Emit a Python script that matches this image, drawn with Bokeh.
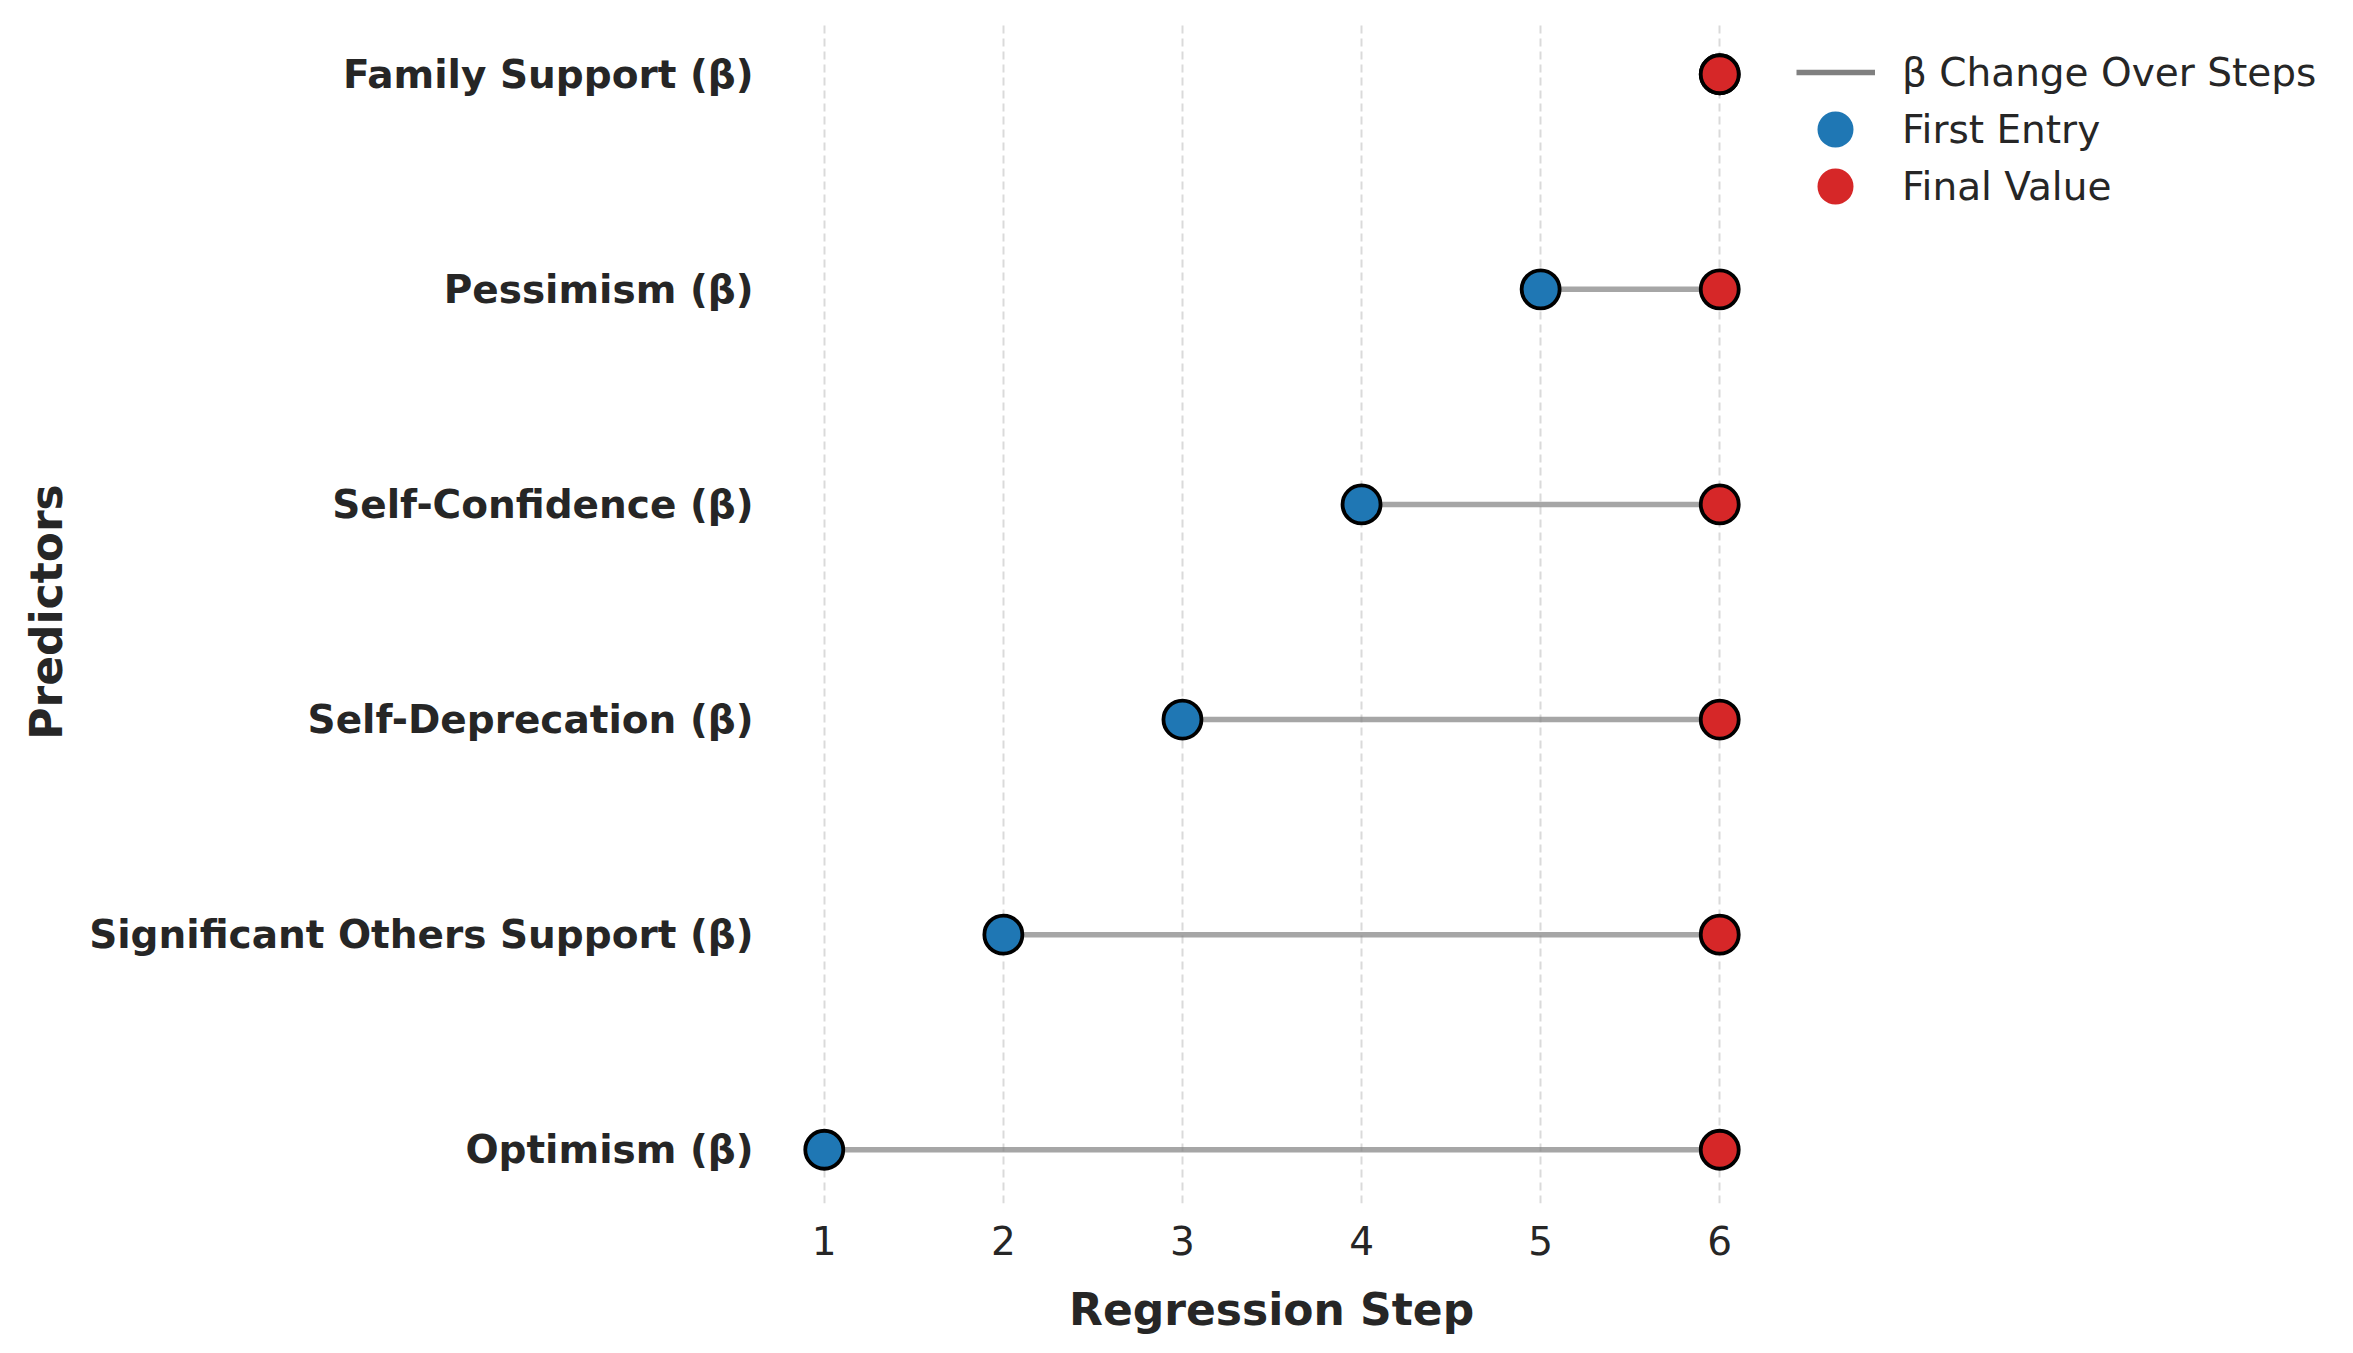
from bokeh.plotting import figure
from bokeh.models import (Range1d, FixedTicker, ColumnDataSource, Legend, LegendItem, Title)
from bokeh.embed import file_html
from bokeh.resources import INLINE

# ---- data ----
predictors = ["Optimism (β)", "Significant Others Support (β)", "Self-Deprecation (β)",
              "Self-Confidence (β)", "Pessimism (β)", "Family Support (β)"]
first_entry = [1, 2, 3, 4, 5, 6]
final_value = [6, 6, 6, 6, 6, 6]
x_ticks = [1, 2, 3, 4, 5, 6]
legend_labels = ["β Change Over Steps", "First Entry", "Final Value"]

ypos = list(range(len(predictors)))
src = ColumnDataSource(dict(y=ypos, first=first_entry, final=final_value, name=predictors))

TXT = "#262626"
FONT = "DejaVu Sans"
FH = 1183                 # frame height
AXW = 985                 # width of the data area (0.75 .. 6.25)
UNIT = AXW / 5.5
FW = 1550                 # frame extended to the right to host the legend
X0 = 0.75

p = figure(frame_width=FW, frame_height=FH,
           min_border_left=779, min_border_top=20, min_border_right=0, min_border_bottom=60,
           x_range=Range1d(X0, X0 + FW / UNIT), y_range=Range1d(-0.25, 5.25),
           output_backend="svg", toolbar_location=None)
p.outline_line_color = None
p.background_fill_color = "white"
p.border_fill_color = "white"

# grid
p.ygrid.grid_line_color = None
p.xgrid.grid_line_color = "#dadada"
p.xgrid.grid_line_width = 2
p.xgrid.grid_line_dash = "8 5"
p.xgrid.ticker = FixedTicker(ticks=x_ticks)

# x axis
p.xaxis.ticker = FixedTicker(ticks=x_ticks)
p.xaxis.axis_line_color = None
p.xaxis.major_tick_line_color = None
p.xaxis.minor_tick_line_color = None
p.xaxis.major_tick_out = 0
p.xaxis.major_tick_in = 0
p.xaxis.major_label_standoff = 22
p.xaxis.major_label_text_font = FONT
p.xaxis.major_label_text_font_size = "39px"
p.xaxis.major_label_text_color = TXT

# x axis title, centred under the data area
xt = Title(text="Regression Step", align="left", offset=AXW / 2 - 203,
           text_font=FONT, text_font_size="44px", text_font_style="bold",
           text_color=TXT, standoff=48)
p.add_layout(xt, "below")

# y axis
p.yaxis.ticker = FixedTicker(ticks=ypos)
p.yaxis.major_label_overrides = {i: n for i, n in zip(ypos, predictors)}
p.yaxis.axis_line_color = None
p.yaxis.major_tick_line_color = None
p.yaxis.minor_tick_line_color = None
p.yaxis.major_tick_out = 0
p.yaxis.major_tick_in = 0
p.yaxis.major_label_standoff = 26
p.yaxis.major_label_text_font = FONT
p.yaxis.major_label_text_font_size = "39px"
p.yaxis.major_label_text_font_style = "bold"
p.yaxis.major_label_text_color = TXT
p.yaxis.axis_label = "Predictors"
p.yaxis.axis_label_text_font = FONT
p.yaxis.axis_label_text_font_size = "44px"
p.yaxis.axis_label_text_font_style = "bold"
p.yaxis.axis_label_text_color = TXT
p.yaxis.axis_label_standoff = 14

# marks
p.segment(x0="first", y0="y", x1="final", y1="y", source=src,
          line_color="gray", line_alpha=0.7, line_width=5.5)
p.scatter(x="first", y="y", source=src, size=38, marker="circle",
          fill_color="#1f77b4", line_color="black", line_width=3.8)
p.scatter(x="final", y="y", source=src, size=38, marker="circle",
          fill_color="#d62728", line_color="black", line_width=3.8)

# legend proxies (a single NaN point: nothing is drawn in the plot)
nan = float("nan")
proxy = ColumnDataSource(dict(x=[nan], y=[nan]))
r_line = p.line(x="x", y="y", source=proxy, line_color="gray", line_width=5.5)
r_first = p.scatter(x="x", y="y", source=proxy, marker="circle", fill_color="#1f77b4", line_color=None)
r_final = p.scatter(x="x", y="y", source=proxy, marker="circle", fill_color="#d62728", line_color=None)

GH = 90
def make_legend(label, renderer, gw, standoff, left, top):
    return Legend(items=[LegendItem(label=label, renderers=[renderer])],
                  location=(left, FH - top - GH), padding=0, margin=0, spacing=0,
                  border_line_color=None, background_fill_alpha=0,
                  glyph_width=gw, glyph_height=GH, label_standoff=standoff,
                  label_text_font=FONT, label_text_font_size="39px",
                  label_text_color=TXT)

p.add_layout(make_legend(legend_labels[0], r_line, 79, 27, 1017, 7), "center")
p.add_layout(make_legend(legend_labels[1], r_first, 90, 22, 1011, 64), "center")
p.add_layout(make_legend(legend_labels[2], r_final, 90, 22, 1011, 121), "center")

open("out.html", "w").write(file_html(p, INLINE))
